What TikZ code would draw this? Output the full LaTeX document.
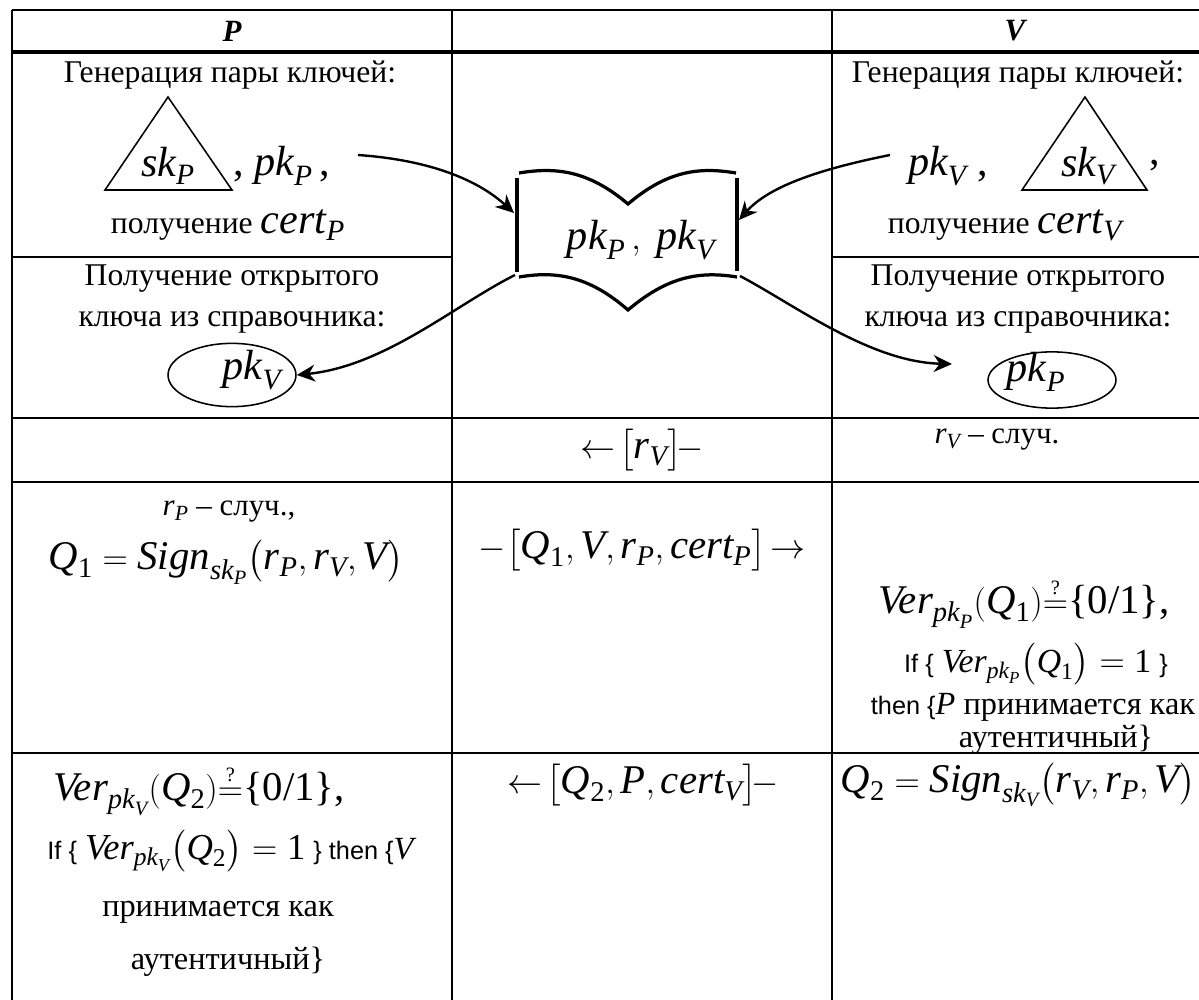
\documentclass[tikz,border=0pt]{standalone}
\usepackage{amsmath}
\usepackage{fontspec}
\setmainfont{Liberation Serif}
\newfontfamily\arialf{Liberation Sans}
\usetikzlibrary{arrows.meta,shapes.geometric}

\newcommand{\iv}[1]{\textit{#1}}
\newcommand{\nm}[1]{\textup{#1}}
\newcommand{\qeq}{{\overset{\scriptscriptstyle\nm{?}}{=}}}
\newcommand{\sansw}[1]{{\arialf\fontsize{18}{22}\selectfont #1}}

\begin{document}
\begin{tikzpicture}[x=0.025cm,y=-0.025cm,
  grid/.style={line width=1.8pt},
  triline/.style={line width=1.1pt},
  docline/.style={line width=2.3pt},
  arr/.style={-{Stealth[length=13pt,width=12pt]},line width=1.7pt},
  hdr/.style={font=\fontsize{22}{25}\selectfont\bfseries\itshape,inner sep=0pt},
  base/.style={font=\fontsize{22.5}{26}\selectfont,inner sep=0pt},
  key/.style={font=\fontsize{30}{33}\selectfont,inner sep=0pt},
  fml/.style={font=\fontsize{29}{32}\selectfont,inner sep=0pt},
  mid/.style={font=\fontsize{23}{26}\selectfont,inner sep=0pt},
  small/.style={font=\fontsize{22}{24}\selectfont,inner sep=0pt},
  oval/.style={draw,ellipse,line width=1.1pt,inner sep=0pt}]
  \useasboundingbox (0,0) rectangle (1199,1000);
  % table grid
  \draw[grid] (12,10) -- (1199,10);
  \draw[grid,line width=2.4pt] (12,52) -- (1199,52);
  \draw[grid,line width=1.3pt] (12,257) -- (452,257) (832,257) -- (1199,257);
  \foreach \yy in {418,482,753} { \draw[grid] (12,\yy) -- (1199,\yy); }
  \foreach \xx in {12,452,832} { \draw[grid] (\xx,10) -- (\xx,1000); }
  % header
  \node[hdr] (hP) at (232,31) {P};
  \node[hdr] (hV) at (1015,31) {V};
  % P: key generation
  \node[base] (genP) at (230,75) {Генерация пары ключей:};
  \draw[triline] (105,190) -- (168,97) -- (232,190) -- cycle;
  \node[key] (skP) at (168,166) {$\iv{sk}_{\iv{P}}$};
  \node[key,anchor=west] (pkP) at (233,166) {, $\iv{pk}_{\iv{P}}$\,,};
  \coordinate (fromP) at (358,155);
  \node[base] (certP) at (228,225) {получение {\fontsize{30}{30}\selectfont$\iv{cert}_{\iv{P}}$}};
  % V: key generation
  \node[base] (genV) at (1018,75) {Генерация пары ключей:};
  \draw[triline] (1022,190) -- (1085,97) -- (1147,190) -- cycle;
  \node[key] (skV) at (1088,166) {$\iv{sk}_{\iv{V}}$};
  \node[key] (pkV) at (948,166) {$\iv{pk}_{\iv{V}}$ ,};
  \node[key] (commaV) at (1155,166) {,};
  \coordinate (fromV) at (890,155);
  \node[base] (certV) at (1005,225) {получение {\fontsize{30}{30}\selectfont$\iv{cert}_{\iv{V}}$}};
  % directory
  \node[key] (dir) at (641,240) {$\iv{pk}_{\iv{P}}\,,\;\iv{pk}_{\iv{V}}$};
  \draw[docline] (517,178) -- (517,272);
  \draw[docline] (737,178) -- (737,271);
  \draw[docline] (519,173) .. controls (555,167) and (588,170) .. (628,204)
    .. controls (668,170) and (700,167) .. (736,173);
  \draw[docline] (519,277) .. controls (555,271) and (588,275) .. (628,310)
    .. controls (668,276) and (700,271) .. (737,277);
  \coordinate (dirW) at (514,213);
  \coordinate (dirE) at (739,220);
  \coordinate (dirSW) at (515,275);
  \coordinate (dirSE) at (740,276);
  % P: public key from the directory
  \node[base] (getP1) at (232,279) {Получение открытого};
  \node[base] (getP2) at (232,322) {ключа из справочника:};
  \node[oval,minimum width=91pt,minimum height=45pt] (ovV) at (232,375) {};
  \node[key] (ovVt) at (252,370) {$\iv{pk}_{\iv{V}}$};
  % V: public key from the directory
  \node[base] (getV1) at (1018,279) {Получение открытого};
  \node[base] (getV2) at (1018,322) {ключа из справочника:};
  \node[oval,minimum width=91pt,minimum height=40pt] (ovP) at (1052,380) {};
  \node[key] (ovPt) at (1036,372) {$\iv{pk}_{\iv{P}}$};
  \coordinate (toP) at (952,364);
  % arrows to and from the directory
  \draw[arr] (fromP) .. controls (430,160) and (478,180) .. (dirW);
  \draw[arr] (fromV) .. controls (825,168) and (770,185) .. (dirE);
  \draw[arr] (dirSW) .. controls (455,305) and (385,366) .. (ovV.east);
  \draw[arr] (dirSE) .. controls (795,305) and (870,362) .. (toP);
  % step 1
  \node[fml] (m1) at (642,450) {$\leftarrow\!\bigl[\iv{r}_{\iv{V}}\bigr]\!-$};
  \node[small] (rV) at (997,440) {$\iv{r}_{\iv{V}}$ -- случ.};
  % step 2
  \node[small] (rP) at (229,512) {$\iv{r}_{\iv{P}}$ -- случ.,};
  \node[fml] (Q1) at (226,562) {$\iv{Q}_{\nm{1}}=\iv{Sign}_{\iv{sk}_{\iv{P}}}\bigl(\iv{r}_{\iv{P}},\iv{r}_{\iv{V}},\iv{V}\bigr)$};
  \node[fml] (m2) at (642,550) {$-\bigl[\iv{Q}_{\nm{1}},\iv{V},\iv{r}_{\iv{P}},\iv{cert}_{\iv{P}}\bigr]\!\rightarrow$};
  \node[fml] (verQ1) at (1024,603) {$\iv{Ver}_{\iv{pk}_{\iv{P}}}(\iv{Q}_{\nm{1}})\qeq\nm{\{0/1\}}$,};
  \node[mid] (ifQ1) at (1036,664) {\sansw{If \{} {\fontsize{24}{28}\selectfont$\iv{Ver}_{\iv{pk}_{\iv{P}}}\bigl(\iv{Q}_{\nm{1}}\bigr)=\nm{1}$} \sansw{\}}};
  \node[mid] (thQ1) at (1033,707) {\sansw{then \{}\iv{P} принимается как};
  \node[mid] (auQ1) at (1056,740) {аутентичный\}};
  % step 3
  \node[fml] (m3) at (643,785) {$\leftarrow\!\bigl[\iv{Q}_{\nm{2}},\iv{P},\iv{cert}_{\iv{V}}\bigr]\!-$};
  \node[fml] (Q2) at (1018,785) {$\iv{Q}_{\nm{2}}=\iv{Sign}_{\iv{sk}_{\iv{V}}}\bigl(\iv{r}_{\iv{V}},\iv{r}_{\iv{P}},\iv{V}\bigr)$};
  \node[fml] (verQ2) at (199,790) {$\iv{Ver}_{\iv{pk}_{\iv{V}}}(\iv{Q}_{\nm{2}})\qeq\nm{\{0/1\}}$,};
  \node[mid] (ifQ2) at (232,851) {\sansw{If \{} {\fontsize{26}{30}\selectfont$\iv{Ver}_{\iv{pk}_{\iv{V}}}\bigl(\iv{Q}_{\nm{2}}\bigr)=\nm{1}$} \sansw{\} then \{}\iv{V}};
  \node[mid] (thQ2) at (218,912) {принимается как};
  \node[mid] (auQ2) at (228,962) {аутентичный\}};
\end{tikzpicture}
\end{document}
